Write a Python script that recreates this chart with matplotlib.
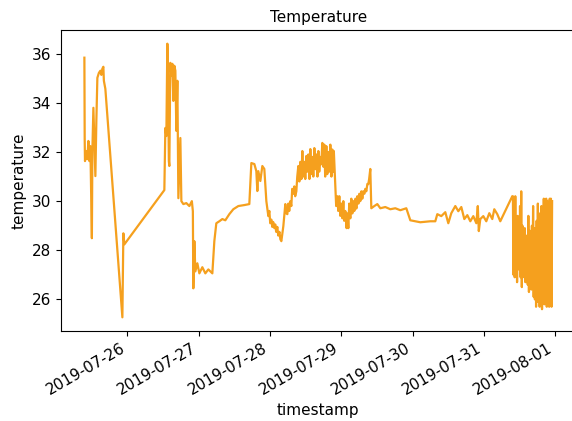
import matplotlib
matplotlib.use("Agg")
import matplotlib.pyplot as plt
import matplotlib.dates as mdates
import pandas as pd

# hours since 2019-07-25 00:00
hours = [
    9.53, 9.63, 9.73, 10.03, 10.37, 10.54, 10.87, 11.21, 11.55, 12.05, 12.22, 12.56, 12.89,
    13.23, 13.56, 13.90, 14.41, 14.91, 15.25, 15.58, 15.92, 16.09, 16.59, 22.32, 22.65, 22.99,
    36.45, 36.62, 36.79, 37.13, 37.46, 37.63, 37.97, 38.13, 38.47, 38.81, 39.15, 39.48, 39.82,
    40.16, 40.49, 40.83, 41.17, 41.67, 41.84, 42.18, 42.85, 43.86, 44.87, 45.71, 46.05, 46.21,
    46.55, 46.89, 47.56, 48.24, 49.24, 50.25, 51.26, 52.61, 53.28, 53.95, 54.96, 55.97, 56.98,
    58.33, 59.67, 61.36, 63.38, 65.06, 65.74, 66.75, 67.42, 67.76, 68.09, 68.77, 69.44, 70.11,
    70.79, 71.46, 71.8, 72.1, 72.47, 72.8, 73.1, 73.48, 73.8, 74.1, 74.49, 74.8, 75.2, 75.5,
    75.84, 76.2, 76.51,
    77.18, 77.5, 77.86, 78.2, 78.5, 78.87, 79.2, 79.5, 79.88, 80.2, 80.5, 80.89, 81.2, 81.56,
    81.9, 82.24, 82.6, 82.91, 83.2, 83.58, 83.9, 84.26, 84.6, 84.93, 85.3, 85.6, 85.9, 86.28,
    86.6, 86.95, 87.3, 87.62, 88.0, 88.3, 88.6, 88.97, 89.3, 89.64, 90.0, 90.31, 90.6, 90.99,
    91.3, 91.66, 92.0, 92.33, 92.7, 93.01, 93.3, 93.51, 94.01, 94.3, 94.69, 95.0, 95.36, 95.7,
    96.03, 96.4, 96.71, 97.0, 97.38, 97.8, 98.1, 98.39, 98.7, 99.06, 99.4, 99.74, 100.1,
    100.41, 100.8, 101.1, 101.42, 101.8, 102.1, 102.43, 102.8, 103.1, 103.44, 103.8, 104.1,
    104.45, 104.8, 105.12, 105.4, 105.79, 106.13,
    107.14, 108.15, 109.16, 110.84, 112.53, 114.21, 115.89, 117.91, 119.26, 122.62, 125.99,
    127.67, 128.35, 129.69, 131.04, 132.05, 133.06, 134.41, 135.42, 136.43, 137.44, 138.45,
    139.46, 140.47, 141.48, 141.98, 142.32, 142.82, 143.83, 144.84, 145.85, 146.86, 147.53,
    148.54, 149.55, 153.59,
    153.8, 154.0, 154.2, 154.4, 154.6, 154.8, 155.0, 155.2, 155.4, 155.6, 155.8, 156.0, 156.2,
    156.4, 156.6, 156.8, 157.0, 157.2, 157.4, 157.6, 157.8, 158.0, 158.2, 158.4, 158.6, 158.8,
    159.0, 159.2, 159.4, 159.6, 159.8, 160.0, 160.2, 160.4, 160.6, 160.8, 161.0, 161.2, 161.4,
    161.6, 161.8, 162.0, 162.2, 162.4, 162.6, 162.8, 163.0, 163.2, 163.4, 163.6, 163.8, 164.0,
    164.2, 164.4, 164.6, 164.8, 165.0, 165.2, 165.4, 165.6, 165.8, 166.0, 166.2, 166.4, 166.6,
    166.8, 167.0,
]

temperature = [
    35.84, 32.57, 31.63, 31.84, 32.04, 31.71, 32.45, 31.63, 32.24, 28.49, 32.04, 33.80, 32.45,
    31.02, 33.27, 35.02, 35.22, 35.31, 35.14, 35.39, 35.47, 34.90, 34.57, 25.27, 28.69, 28.24,
    30.45, 31.63, 32.98, 32.65, 36.41, 35.71, 31.63, 31.43, 35.63, 35.10, 35.59, 34.08, 35.51,
    35.31, 32.86, 34.90, 30.12, 32.04, 32.57, 30.00, 29.88, 29.92, 29.80, 30.00, 29.59, 26.45,
    28.37, 27.14, 27.47, 27.06, 27.31, 27.06, 27.22, 27.06, 28.37, 29.10, 29.18, 29.27, 29.22,
    29.47, 29.67, 29.80, 29.84, 29.88, 31.55, 31.51, 31.22, 30.41, 31.22, 30.82, 31.43, 31.31,
    30.00, 29.39, 29.6, 29.1, 29.25, 28.95, 29.15, 28.9, 29.05, 28.75, 28.95, 28.6, 28.75, 28.45,
    28.37, 28.7, 28.98,
    29.88, 29.5, 29.47, 29.9, 29.6, 30.0, 29.8, 30.5, 30.3, 30.6, 30.2, 30.4, 31.0, 31.43,
    30.8, 31.6, 30.9, 32.04, 31.0, 31.6, 30.9, 31.84, 31.2, 31.9, 30.9, 32.12, 31.1, 31.8,
    31.0, 32.16, 31.3, 31.9, 31.0, 32.04, 31.2, 31.8, 31.5, 32.37, 31.4, 32.3, 31.0, 32.24,
    31.1, 32.0, 31.2, 32.3, 31.0, 32.1, 31.2, 32.04, 30.61, 29.8, 30.2, 29.6, 30.20, 29.4,
    29.9, 29.3, 30.0, 29.2, 29.6, 28.9, 29.5, 28.90, 29.9, 29.3, 30.1, 29.5, 30.0,
    29.6, 30.1, 29.7, 30.2, 29.9, 30.3, 30.0, 30.4, 30.1, 30.4, 30.3, 30.5,
    30.4, 30.7, 30.69, 30.9, 31.31, 29.71,
    29.80, 29.88, 29.71, 29.76, 29.67, 29.71, 29.63, 29.71, 29.22, 29.14, 29.18,
    29.18, 29.47, 29.39, 29.55, 29.10, 29.51, 29.80, 29.59, 29.76, 29.27, 29.43,
    29.18, 29.39, 29.10, 29.80, 28.78, 29.27, 29.39, 29.18, 29.51, 29.27, 29.67,
    29.47, 29.18, 30.20,
    30.2, 27.0, 29.6, 26.9, 30.2, 27.2, 29.2, 26.7, 29.4, 27.3, 28.9, 27.2, 29.8,
    26.9, 30.4, 26.5, 29.0, 27.1, 28.6, 26.9, 28.9, 26.7, 28.6, 27.0, 28.2, 26.6,
    29.4, 26.3, 28.8, 26.5, 28.4, 26.4, 29.0, 26.5, 29.8, 26.1, 28.9, 26.0, 28.4,
    25.7, 29.2, 25.9, 29.9, 26.2, 29.5, 25.7, 28.6, 25.8, 29.8, 25.6, 29.6, 26.0,
    30.1, 25.8, 29.7, 25.9, 30.1, 25.7, 30.0, 25.9, 29.4, 25.7, 30.1, 25.8, 30.1,
    25.7, 30.0,
]

base = pd.Timestamp("2019-07-25 00:00")
timestamps = [base + pd.Timedelta(hours=h) for h in hours]

fig = plt.figure(figsize=(5.72, 4.21), dpi=100)
ax = fig.add_axes([61 / 572, 90 / 421, 514.5 / 572, 301 / 421])
ax.plot(timestamps, temperature, color="#F5A01E", linewidth=1.6)

fs = 11
ax.set_title("Temperature", fontsize=fs)
ax.set_xlabel("timestamp", fontsize=fs)
ax.set_ylabel("temperature", fontsize=fs)
ax.xaxis.set_major_locator(mdates.DayLocator())
ax.xaxis.set_major_formatter(mdates.DateFormatter("%Y-%m-%d"))
ax.set_yticks([26, 28, 30, 32, 34, 36])
for lbl in ax.get_xticklabels():
    lbl.set_rotation(30)
    lbl.set_ha("right")
ax.tick_params(labelsize=fs)

fig.savefig("out.png", dpi=100)
